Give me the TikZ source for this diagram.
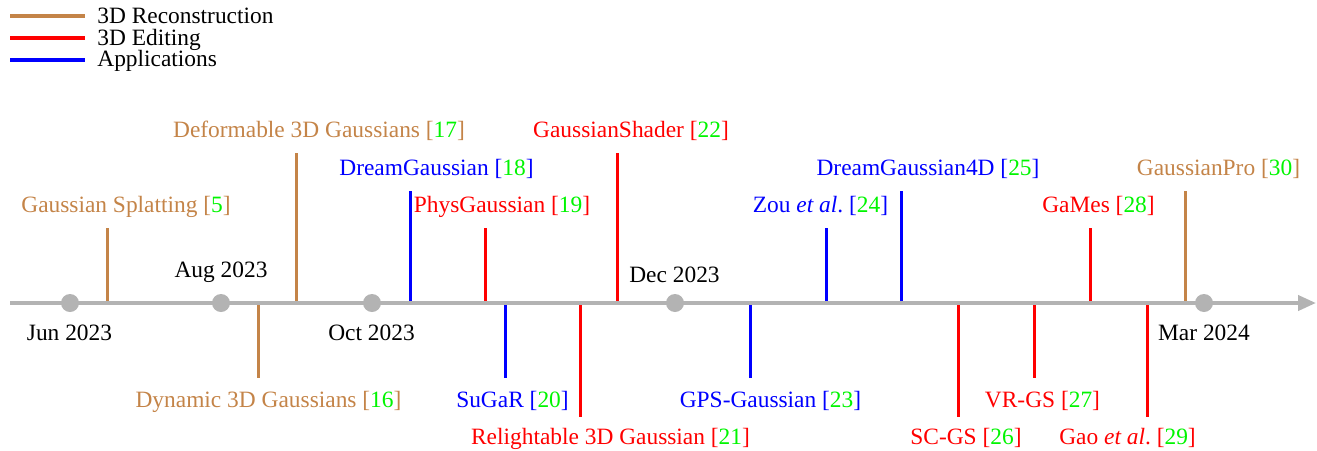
\documentclass[tikz,border=0pt]{standalone}
\usepackage{fontspec}
\setmainfont{Liberation Serif}
\usetikzlibrary{arrows.meta}

\definecolor{recon}{RGB}{196,132,72}
\definecolor{edit}{RGB}{255,0,0}
\definecolor{appl}{RGB}{0,0,255}
\definecolor{refgreen}{RGB}{0,245,0}
\definecolor{axisgray}{RGB}{179,179,179}

% bracketed reference number with a green index
\newcommand\refnum[1]{[\textcolor{refgreen}{#1}]}

\begin{document}
\begin{tikzpicture}[x=0.5pt,y=-0.5pt,
  every node/.style={font=\fontsize{11.7}{14}\selectfont},
  axisline/.style={line width=2pt, draw=axisgray},
  evline/.style={line width=1.5pt},
  keyline/.style={line width=2pt},
  lbl/.style={anchor=base, inner sep=0pt},
  keytxt/.style={anchor=base west, inner sep=0pt},
  month/.style={circle, fill=axisgray, inner sep=0pt, minimum size=9pt},
]
\useasboundingbox (0,0) rectangle (1317,450);

% ---- legend ----
\coordinate (k1a) at (10,16); \coordinate (k1b) at (85,16);
\coordinate (k2a) at (10,38); \coordinate (k2b) at (85,38);
\coordinate (k3a) at (10,60); \coordinate (k3b) at (85,60);
\draw[keyline,recon] (k1a) -- (k1b);
\draw[keyline,edit]  (k2a) -- (k2b);
\draw[keyline,appl]  (k3a) -- (k3b);
\node[keytxt] (k1) at (97,23) {3D Reconstruction};
\node[keytxt] (k2) at (97,45) {3D Editing};
\node[keytxt] (k3) at (97,66) {Applications};

% ---- events above the axis ----
\coordinate (a5) at (107.5,303);  \coordinate (t5) at (107.5,228);
\draw[evline,recon] (a5) -- (t5);
\node[lbl,text=recon] (e5) at (126,212) {Gaussian Splatting \refnum{5}};

\coordinate (a17) at (296.5,303); \coordinate (t17) at (296.5,153);
\draw[evline,recon] (a17) -- (t17);
\node[lbl,text=recon] (e17) at (319,137) {Deformable 3D Gaussians \refnum{17}};

\coordinate (a18) at (410,303); \coordinate (t18) at (410,190.5);
\draw[evline,appl] (a18) -- (t18);
\node[lbl,text=appl] (e18) at (436.5,175) {DreamGaussian \refnum{18}};

\coordinate (a19) at (485.5,303); \coordinate (t19) at (485.5,228);
\draw[evline,edit] (a19) -- (t19);
\node[lbl,text=edit] (e19) at (502,212) {PhysGaussian \refnum{19}};

\coordinate (a22) at (617.5,303); \coordinate (t22) at (617.5,153);
\draw[evline,edit] (a22) -- (t22);
\node[lbl,text=edit] (e22) at (631,137) {GaussianShader \refnum{22}};

\coordinate (a24) at (826,303); \coordinate (t24) at (826,228);
\draw[evline,appl] (a24) -- (t24);
\node[lbl,text=appl] (e24) at (820.5,212) {Zou \emph{et al}.\ \refnum{24}};

\coordinate (a25) at (901.5,303); \coordinate (t25) at (901.5,190.5);
\draw[evline,appl] (a25) -- (t25);
\node[lbl,text=appl] (e25) at (928,175) {DreamGaussian4D \refnum{25}};

\coordinate (a28) at (1090.5,303); \coordinate (t28) at (1090.5,228);
\draw[evline,edit] (a28) -- (t28);
\node[lbl,text=edit] (e28) at (1098.5,212) {GaMes \refnum{28}};

\coordinate (a30) at (1185,303); \coordinate (t30) at (1185,190.5);
\draw[evline,recon] (a30) -- (t30);
\node[lbl,text=recon] (e30) at (1218.5,175) {GaussianPro \refnum{30}};

% ---- events below the axis ----
\coordinate (a16) at (258.5,303); \coordinate (b16) at (258.5,378);
\draw[evline,recon] (a16) -- (b16);
\node[lbl,text=recon] (e16) at (268.5,407) {Dynamic 3D Gaussians \refnum{16}};

\coordinate (a20) at (505,303); \coordinate (b20) at (505,378);
\draw[evline,appl] (a20) -- (b20);
\node[lbl,text=appl] (e20) at (512.5,407) {SuGaR \refnum{20}};

\coordinate (a21) at (580,303); \coordinate (b21) at (580,416.5);
\draw[evline,edit] (a21) -- (b21);
\node[lbl,text=edit] (e21) at (610.5,444) {Relightable 3D Gaussian \refnum{21}};

\coordinate (a23) at (750,303); \coordinate (b23) at (750,378);
\draw[evline,appl] (a23) -- (b23);
\node[lbl,text=appl] (e23) at (770.5,407) {GPS-Gaussian \refnum{23}};

\coordinate (a26) at (958.5,303); \coordinate (b26) at (958.5,416.5);
\draw[evline,edit] (a26) -- (b26);
\node[lbl,text=edit] (e26) at (966,444) {SC-GS \refnum{26}};

\coordinate (a27) at (1034,303); \coordinate (b27) at (1034,378);
\draw[evline,edit] (a27) -- (b27);
\node[lbl,text=edit] (e27) at (1042.5,407) {VR-GS \refnum{27}};

\coordinate (a29) at (1147,303); \coordinate (b29) at (1147,416.5);
\draw[evline,edit] (a29) -- (b29);
\node[lbl,text=edit] (e29) at (1127.5,444) {Gao \emph{et al}.\ \refnum{29}};

% ---- time axis ----
\coordinate (axL) at (10,303);
\coordinate (axR) at (1316,303);
\draw[axisline,-{Triangle[length=9pt,width=7.5pt]}] (axL) -- (axR);

% month markers and their dates
\node[month] (jun) at (70,303) {};
\node[month] (aug) at (221,303) {};
\node[month] (oct) at (372,303) {};
\node[month] (dec) at (675,303) {};
\node[month] (mar) at (1204,303) {};
\node[lbl] (junl) at (69.5,340.5) {Jun 2023};
\node[lbl] (augl) at (221,277) {Aug 2023};
\node[lbl] (octl) at (371.5,340.5) {Oct 2023};
\node[lbl] (decl) at (674.5,282) {Dec 2023};
\node[lbl] (marl) at (1204,340.5) {Mar 2024};
\end{tikzpicture}
\end{document}
